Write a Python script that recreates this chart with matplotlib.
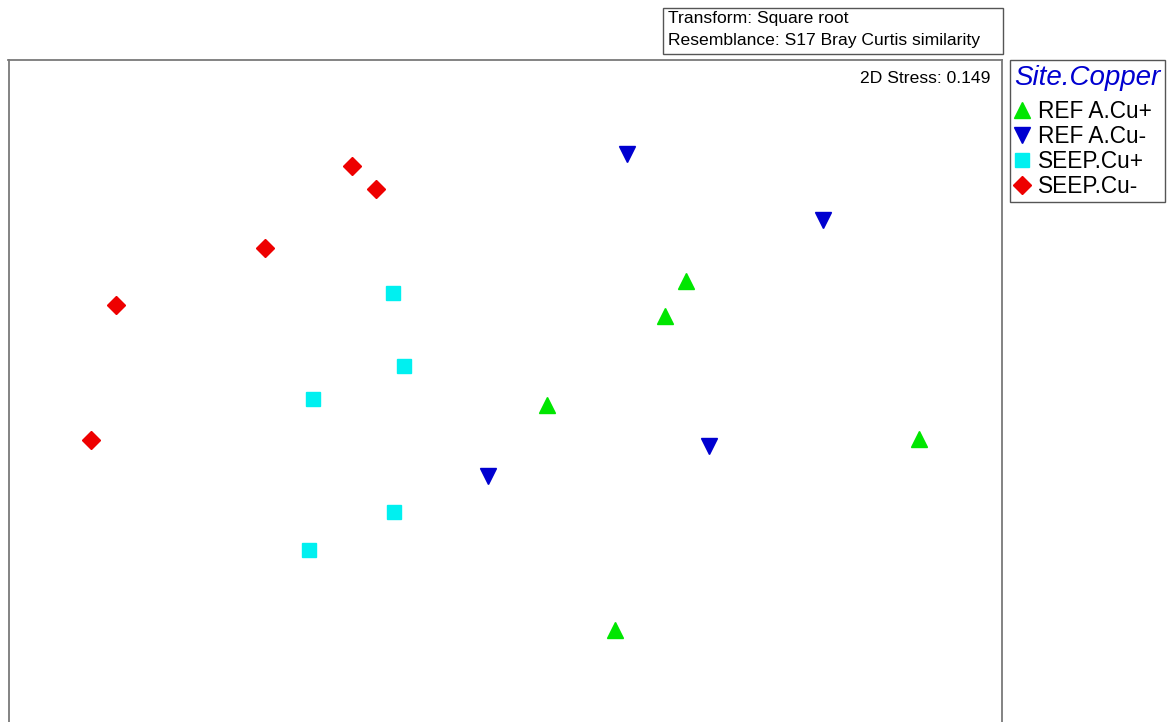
import matplotlib
matplotlib.use("Agg")
import matplotlib.pyplot as plt
from matplotlib.lines import Line2D
from matplotlib.patches import Rectangle

plt.rcParams['font.family'] = ['Liberation Sans', 'DejaVu Sans']

# nMDS ordination coordinates
groups = ["REF A.Cu+", "REF A.Cu-", "SEEP.Cu+", "SEEP.Cu-"]
ref_plus_x = [1.81, 1.60, 0.42, 4.14, 1.10]
ref_plus_y = [0.99, 0.64, -0.25, -0.59, -2.50]
ref_minus_x = [1.22, 3.18, 2.04, -0.17]
ref_minus_y = [2.26, 1.60, -0.66, -0.96]
seep_plus_x = [-1.12, -1.01, -1.92, -1.11, -1.96]
seep_plus_y = [0.87, 0.14, -0.19, -1.32, -1.70]
seep_minus_x = [-1.53, -1.29, -2.40, -3.89, -4.14]
seep_minus_y = [2.14, 1.91, 1.32, 0.75, -0.60]

colors = ["#00e600", "#0000d0", "#00f0f0", "#ee0000"]
markers = ["^", "v", "s", "D"]
sizes = [12, 12, 10, 9]

W, H = 1167, 722
fig = plt.figure(figsize=(W / 100, H / 100), dpi=100)
ax = fig.add_axes([8.5 / W, 0.0, (1002 - 8.5) / W, (H - 60) / H])

series = [(ref_plus_x, ref_plus_y), (ref_minus_x, ref_minus_y),
          (seep_plus_x, seep_plus_y), (seep_minus_x, seep_minus_y)]
for (xs, ys), c, m, s in zip(series, colors, markers, sizes):
    ax.plot(xs, ys, linestyle="none", marker=m, markersize=s,
            color=c, markeredgecolor=c)

ax.set_xlim(-4.97, 4.97)
ax.set_ylim(-3.42, 3.20)
ax.set_xticks([])
ax.set_yticks([])
for side in ["left", "right", "top"]:
    ax.spines[side].set_color("#7a7a7a")
    ax.spines[side].set_linewidth(1.3)
ax.spines["bottom"].set_visible(False)

ax.text(0.988, 0.983, "2D Stress: 0.149", transform=ax.transAxes,
        ha="right", va="top", fontsize=12.6)

# info box on top
fig.add_artist(Rectangle((663 / W, 1 - 54 / H), 340 / W, 46 / H,
                         transform=fig.transFigure, facecolor="white",
                         edgecolor="#555555", linewidth=1.0))
fig.text(668 / W, 1 - 18 / H, "Transform: Square root",
         ha="left", va="center", fontsize=12.6)
fig.text(668 / W, 1 - 41 / H, "Resemblance: S17 Bray Curtis similarity",
         ha="left", va="center", fontsize=12.6)

# legend
handles = [Line2D([], [], linestyle="none", marker=m, markersize=s,
                  color=c, markeredgecolor=c)
           for c, m, s in zip(colors, markers, sizes)]
leg = fig.legend(handles, groups, title="Site.Copper",
                 loc="upper left", bbox_to_anchor=(1010 / W, 1 - 60 / H),
                 borderaxespad=0, fontsize=16.3, title_fontsize=20,
                 fancybox=False, framealpha=1, edgecolor="#555555",
                 handlelength=0.7, handletextpad=0.35, labelspacing=0.08,
                 borderpad=0.2)
leg.get_title().set_color("#0000d0")
leg.get_title().set_style("italic")
leg.get_frame().set_linewidth(1.0)
leg._legend_box.align = "left"
leg._legend_box.sep = 7

fig.savefig("out.png", dpi=100)
